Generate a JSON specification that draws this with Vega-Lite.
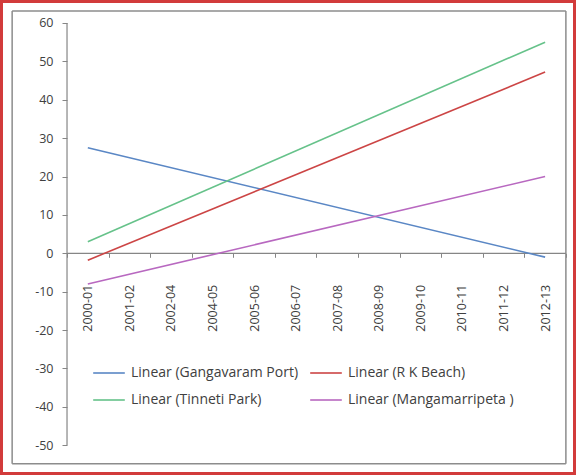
{
  "$schema": "https://vega.github.io/schema/vega-lite/v6.json",
  "width": 570,
  "height": 469,
  "autosize": "none",
  "padding": {"left": 3, "top": 3, "right": 3, "bottom": 3},
  "background": "#d23b3b",
  "config": {
    "view": {"fill": "white", "stroke": null},
    "font": "Open Sans",
    "axis": {"labelFont": "Open Sans", "labelColor": "#404040", "labelFontSize": 12.5, "grid": false, "tickColor": "#868686", "domain": false},
    "legend": {"labelFont": "Open Sans", "labelColor": "#404040", "labelFontSize": 14, "labelLimit": 400}
  },
  "data": {"values": [{}]},
  "datasets": {
    "trend": [
      {"year": "2000-01", "series": "Linear (Gangavaram Port)", "value": 27.5},
      {"year": "2012-13", "series": "Linear (Gangavaram Port)", "value": -1.0},
      {"year": "2000-01", "series": "Linear (R K Beach)", "value": -1.8},
      {"year": "2012-13", "series": "Linear (R K Beach)", "value": 47.2},
      {"year": "2000-01", "series": "Linear (Tinneti Park)", "value": 3.0},
      {"year": "2012-13", "series": "Linear (Tinneti Park)", "value": 55.0},
      {"year": "2000-01", "series": "Linear (Mangamarripeta )", "value": -8.0},
      {"year": "2012-13", "series": "Linear (Mangamarripeta )", "value": 20.0}
    ]
  },
  "layer": [
    {
      "description": "chart area frame: top edge",
      "mark": {"type": "rule", "color": "#8c8c8c", "strokeWidth": 1.5},
      "encoding": {
        "x": {"datum": "2000-01", "bandPosition": -1.32, "type": "nominal"},
        "x2": {"datum": "2012-13", "bandPosition": 1.0},
        "y": {"datum": 63.1, "type": "quantitative"}
      }
    },
    {
      "description": "chart area frame: bottom edge",
      "mark": {"type": "rule", "color": "#8c8c8c", "strokeWidth": 1.5},
      "encoding": {
        "x": {"datum": "2000-01", "bandPosition": -1.32, "type": "nominal"},
        "x2": {"datum": "2012-13", "bandPosition": 1.0},
        "y": {"datum": -54.8, "type": "quantitative"}
      }
    },
    {
      "description": "chart area frame: left edge",
      "mark": {"type": "rule", "color": "#8c8c8c", "strokeWidth": 1.5},
      "encoding": {
        "x": {"datum": "2000-01", "bandPosition": -1.32, "type": "nominal"},
        "y": {"datum": 63.1, "type": "quantitative"},
        "y2": {"datum": -54.8}
      }
    },
    {
      "description": "chart area frame: right edge",
      "mark": {"type": "rule", "color": "#8c8c8c", "strokeWidth": 1.5},
      "encoding": {
        "x": {"datum": "2012-13", "bandPosition": 1.0, "type": "nominal"},
        "y": {"datum": 63.1, "type": "quantitative"},
        "y2": {"datum": -54.8}
      }
    },
    {
      "description": "value axis line",
      "mark": {"type": "rule", "color": "#868686", "strokeWidth": 1.2},
      "encoding": {
        "x": {"datum": "2000-01", "bandPosition": 0, "type": "nominal"},
        "y": {"datum": -50, "type": "quantitative"},
        "y2": {"datum": 60}
      }
    },
    {
      "description": "category axis line at zero",
      "mark": {"type": "rule", "color": "#868686", "strokeWidth": 1.2},
      "encoding": {
        "x": {"datum": "2000-01", "bandPosition": 0, "type": "nominal"},
        "x2": {"datum": "2012-13", "bandPosition": 1},
        "y": {"datum": 0, "type": "quantitative"}
      }
    },
    {
      "data": {"name": "trend"},
      "mark": {"type": "line", "strokeWidth": 1.6},
      "encoding": {
        "x": {
          "field": "year",
          "type": "nominal",
          "sort": null,
          "scale": {
            "type": "band",
            "domain": ["2000-01", "2001-02", "2002-04", "2004-05", "2005-06", "2006-07", "2007-08", "2008-09", "2009-10", "2010-11", "2011-12", "2012-13"],
            "paddingInner": 0,
            "paddingOuter": 0.8555,
            "align": 0.9
          },
          "axis": {
            "title": null,
            "orient": "bottom",
            "offset": -218.7,
            "tickBand": "extent",
            "tickSize": 4,
            "labelAngle": 270,
            "labelPadding": 27
          }
        },
        "y": {
          "field": "value",
          "type": "quantitative",
          "scale": {"domain": [-56.97, 65.2], "nice": false, "zero": false},
          "axis": {
            "title": null,
            "offset": -64,
            "values": [-50, -40, -30, -20, -10, 0, 10, 20, 30, 40, 50, 60],
            "labelExpr": "'' + datum.value",
            "tickSize": 5,
            "labelPadding": 9
          }
        },
        "color": {
          "field": "series",
          "type": "nominal",
          "sort": null,
          "scale": {
            "domain": ["Linear (Gangavaram Port)", "Linear (R K Beach)", "Linear (Tinneti Park)", "Linear (Mangamarripeta )"],
            "range": ["#5a87c5", "#cc4545", "#66c28a", "#b868c0"]
          },
          "legend": {
            "title": null,
            "orient": "none",
            "legendX": 89,
            "legendY": 353,
            "columns": 2,
            "direction": "horizontal",
            "padding": 0,
            "symbolType": "stroke",
            "symbolSize": 1000,
            "symbolStrokeWidth": 1.6,
            "labelOffset": 5,
            "columnPadding": 7,
            "rowPadding": 3
          }
        }
      }
    }
  ]
}
